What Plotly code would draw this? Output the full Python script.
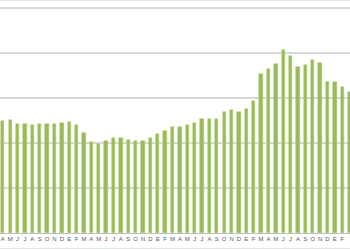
import plotly.graph_objects as go

month_letters = ["A", "M", "J", "J", "A", "S", "O", "N", "D", "E", "F", "M"]
categories = list(range(48))
tick_labels = month_letters * 4
values = [
    24.8, 25.0, 24.1, 24.1, 23.9, 24.2, 24.2, 24.2, 24.4, 24.7, 23.9, 22.2,
    20.3, 19.8, 20.4, 21.0, 21.0, 20.7, 20.4, 20.4, 21.1, 21.9, 22.7, 23.5,
    23.5, 23.9, 24.5, 25.2, 25.2, 25.4, 26.9, 27.4, 26.9, 27.6, 29.3, 35.2,
    36.4, 37.4, 40.5, 39.2, 36.8, 37.2, 38.3, 37.7, 33.5, 33.6, 32.3, 31.2,
]
grid_values = [10, 20, 30, 40, 50]

fig = go.Figure(
    go.Bar(
        x=categories,
        y=values,
        width=0.45,
        marker=dict(color="#9BBB59", line=dict(color="#A9C86A", width=0.5)),
    )
)

fig.update_layout(
    width=350,
    height=250,
    margin=dict(l=0, r=0, t=0, b=17),
    paper_bgcolor="white",
    plot_bgcolor="white",
    showlegend=False,
    bargap=0,
)
fig.update_xaxes(
    range=[-0.38, 47.05],
    tickmode="array",
    tickvals=categories,
    ticktext=tick_labels,
    tickfont=dict(family="Liberation Sans", size=6, color="#595959"),
    ticks="",
    ticklen=0,
    showgrid=False,
    showline=True,
    linecolor="#BFBFBF",
    linewidth=1,
    zeroline=False,
    tickangle=0,
)
fig.update_yaxes(
    range=[0, 51.7],
    tickmode="array",
    tickvals=grid_values,
    showticklabels=False,
    showgrid=True,
    gridcolor="#D9D9D9",
    gridwidth=1.5,
    zeroline=False,
    showline=False,
)
fig.add_shape(type="line", xref="paper", yref="paper", x0=0, x1=1, y0=1, y1=1,
              line=dict(color="#D9D9D9", width=1.5))
fig.add_shape(type="line", xref="paper", yref="paper", x0=0, x1=1, y0=-0.066, y1=-0.066,
              line=dict(color="#E0E0E0", width=1))

fig.write_html("out.html")
